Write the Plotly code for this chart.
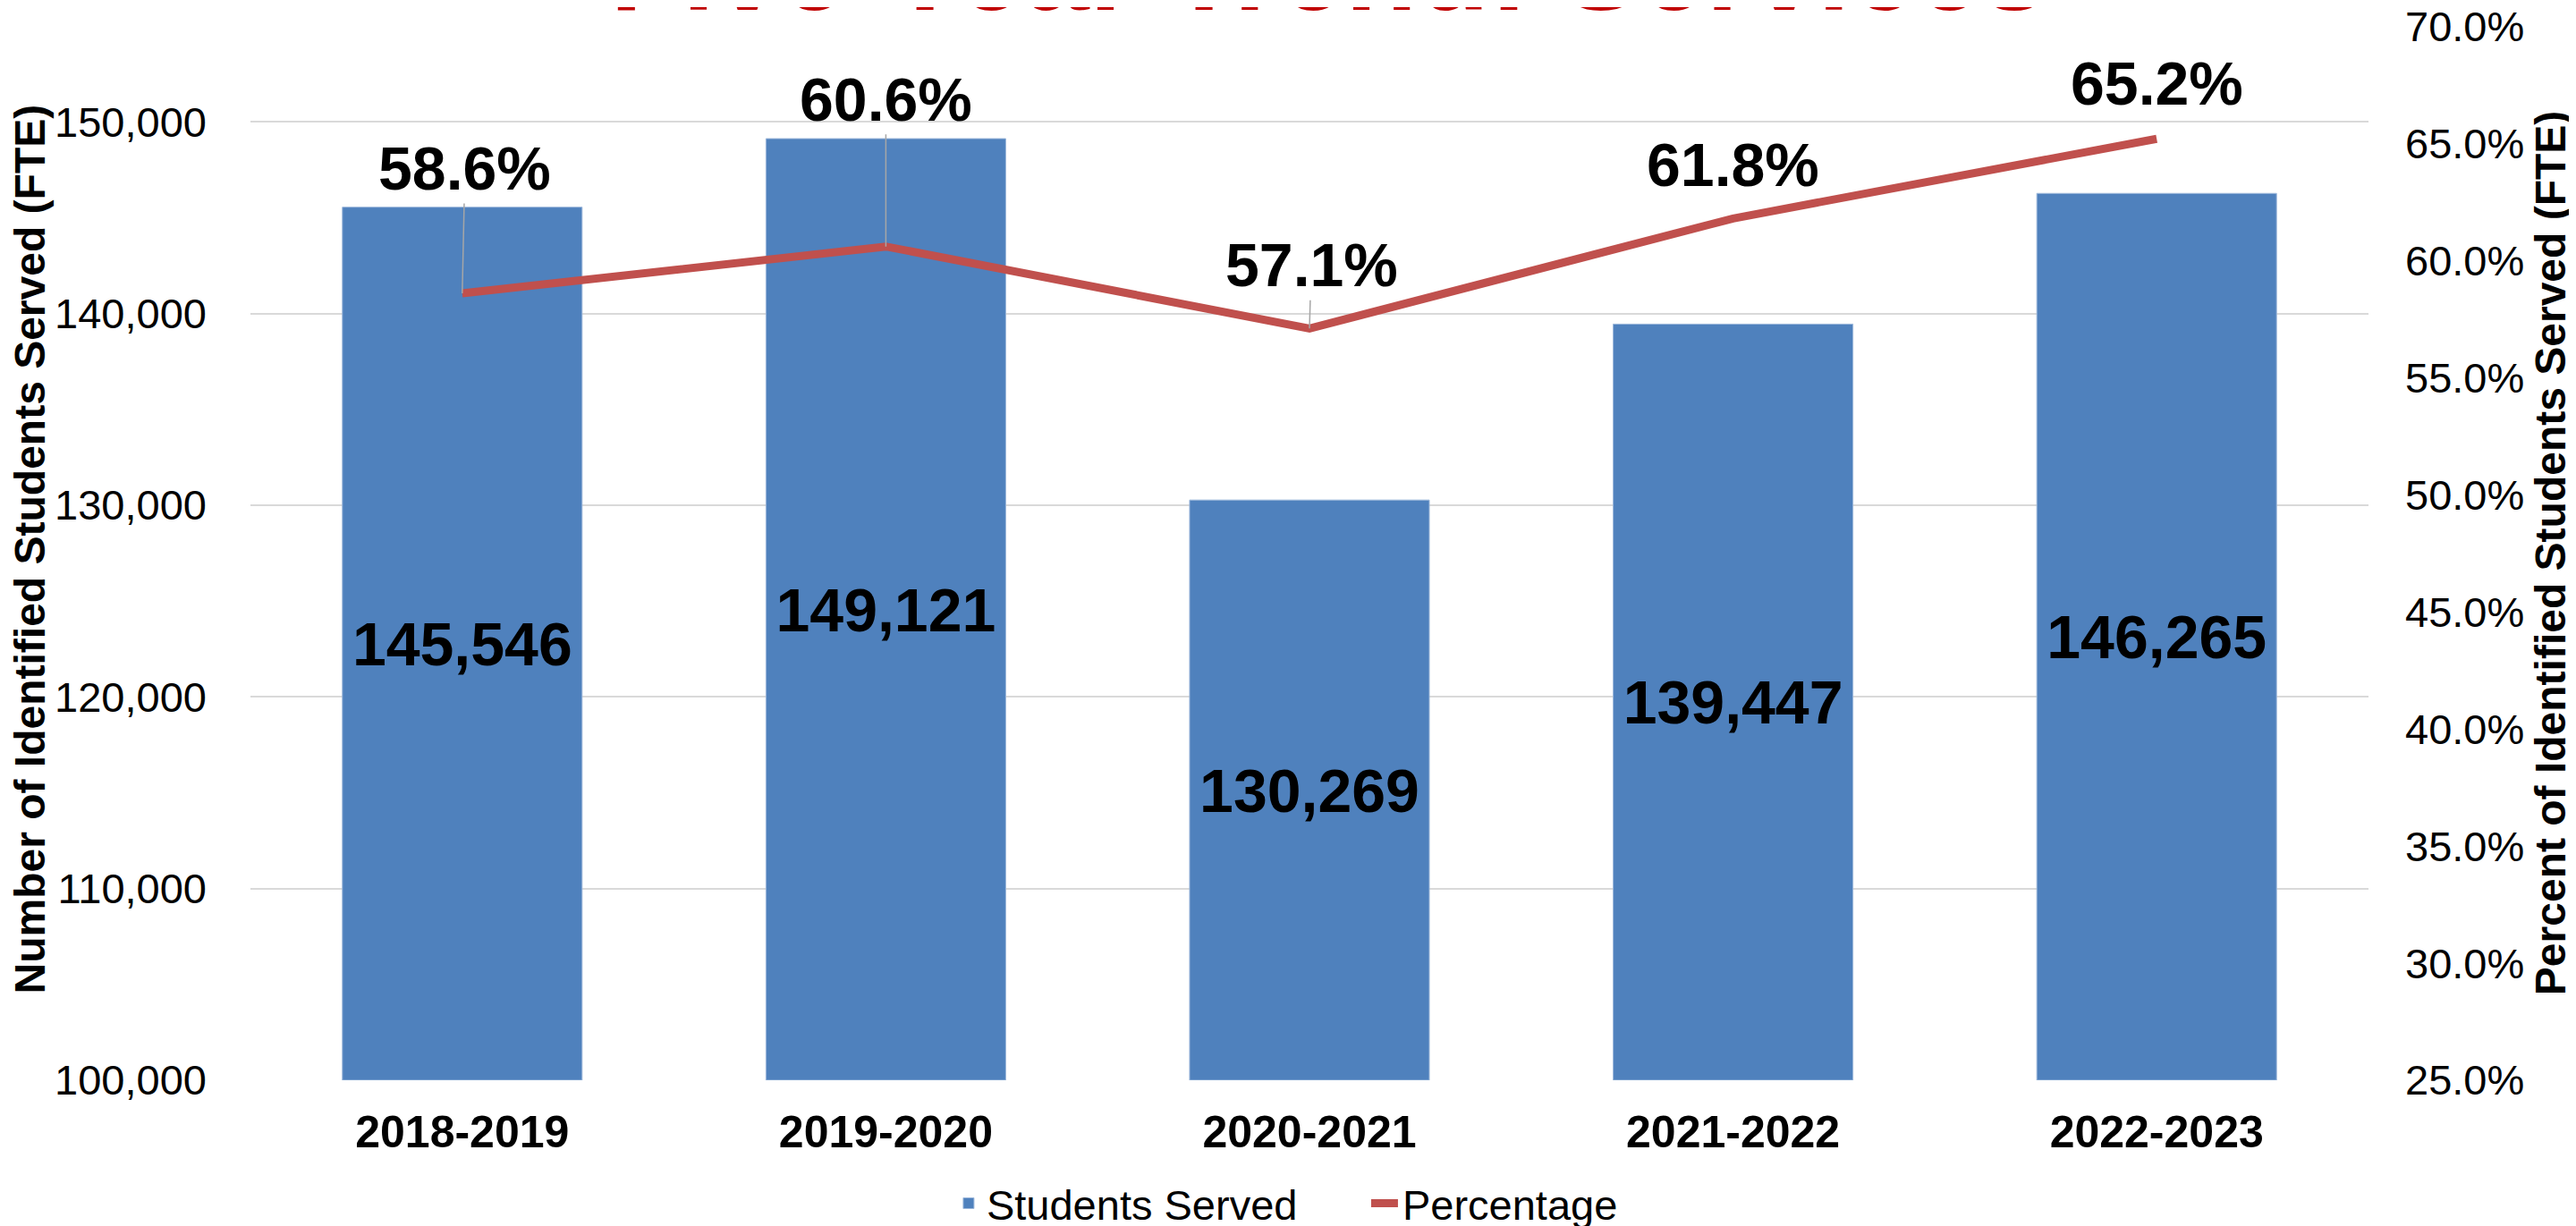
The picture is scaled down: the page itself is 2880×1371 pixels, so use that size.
import plotly.graph_objects as go

# ---- data ----
years = ["2018-2019", "2019-2020", "2020-2021", "2021-2022", "2022-2023"]
students_served = [145546, 149121, 130269, 139447, 146265]
percentage = [0.586, 0.606, 0.571, 0.618, 0.652]

left_axis_min = 100000
left_axis_max = 155000
left_ticks = [100000, 110000, 120000, 130000, 140000, 150000]
right_ticks = [0.25, 0.30, 0.35, 0.40, 0.45, 0.50, 0.55, 0.60, 0.65, 0.70]

# ---- label placement (pixel offsets of the percentage labels from their points) ----
pct_label_dx = [3, 0, 2, 0, 0]
pct_label_dy = [-140, -165, -71, -60, -62]
pct_leader = [True, True, True, False, False]

FONT = "Liberation Sans, Arial, sans-serif"
BAR_COLOR = "#4F81BD"
LINE_COLOR = "#C0504D"
GRID = "#D9D9D9"

fig = go.Figure()

# bars start at the axis minimum so the value labels sit in the middle of the visible bar
fig.add_trace(go.Bar(
    x=years, y=[v - left_axis_min for v in students_served], base=left_axis_min,
    name="Students Served",
    marker=dict(color=BAR_COLOR, line=dict(color="#9DB8DB", width=1)),
    text=[f"{v:,}" for v in students_served],
    textposition="inside", insidetextanchor="middle", textangle=0,
    textfont=dict(family=FONT, size=68, color="black", weight="bold"),
    hovertemplate="%{x}: %{text}<extra></extra>",
    yaxis="y",
))

fig.add_trace(go.Scatter(
    x=years, y=percentage, name="Percentage", mode="lines",
    line=dict(color=LINE_COLOR, width=9),
    yaxis="y2",
))

annotations = []
for yr, p, dx, dy, lead in zip(years, percentage, pct_label_dx, pct_label_dy, pct_leader):
    annotations.append(dict(
        x=yr, y=p, xref="x", yref="y2",
        text=f"{p*100:.1f}%", showarrow=True,
        ax=dx, ay=dy, arrowhead=0, arrowwidth=1.5 if lead else 0.1,
        arrowcolor="#A6A6A6" if lead else "rgba(0,0,0,0)",
        font=dict(family=FONT, size=68, color="black", weight="bold"),
    ))

# chart title (mostly above the visible area, as in the original)
annotations.append(dict(
    x=0.509, y=0.990, xref="paper", yref="paper", xanchor="center", yanchor="bottom",
    text="Five-Year Trend: Services", showarrow=False,
    font=dict(family=FONT, size=132, color="#C00000", weight="bold"),
))
# axis titles
annotations.append(dict(
    x=-0.104, y=0.504, xref="paper", yref="paper", xanchor="center", yanchor="middle",
    text="Number of Identified Students Served (FTE)", showarrow=False, textangle=-90,
    font=dict(family=FONT, size=48, color="black", weight="bold"),
))
annotations.append(dict(
    x=1.086, y=0.50, xref="paper", yref="paper", xanchor="center", yanchor="middle",
    text="Percent of Identified Students Served (FTE)", showarrow=False, textangle=-90,
    font=dict(family=FONT, size=48, color="black", weight="bold"),
))

fig.update_layout(
    width=2880, height=1371,
    margin=dict(l=272, r=240, t=21, b=171, autoexpand=False),
    paper_bgcolor="white", plot_bgcolor="white",
    bargap=0.434,
    showlegend=True,
    legend=dict(orientation="h", x=0.527, xanchor="center", y=-0.117, yanchor="middle",
                font=dict(family=FONT, size=47, color="black"),
                entrywidth=420, tracegroupgap=0),
    xaxis=dict(
        type="category", showgrid=False, showline=False, zeroline=False,
        tickfont=dict(family=FONT, size=50, color="black", weight="bold"),
        ticks="", ticklabelstandoff=24,
    ),
    yaxis=dict(
        range=[left_axis_min, left_axis_max], tickvals=left_ticks, tickformat=",",
        showgrid=True, gridcolor=GRID, gridwidth=1.5, zeroline=False, showline=False,
        tickfont=dict(family=FONT, size=47, color="black"),
        ticks="", ticklabelstandoff=48,
    ),
    yaxis2=dict(
        range=[0.25, 0.7002], tickvals=right_ticks, tickformat=".1%",
        overlaying="y", side="right", showgrid=False, zeroline=False, showline=False,
        tickfont=dict(family=FONT, size=47, color="black"),
        ticks="", ticklabelstandoff=40, ticklabeloverflow="allow",
    ),
    annotations=annotations,
)

fig.write_html("out.html")
